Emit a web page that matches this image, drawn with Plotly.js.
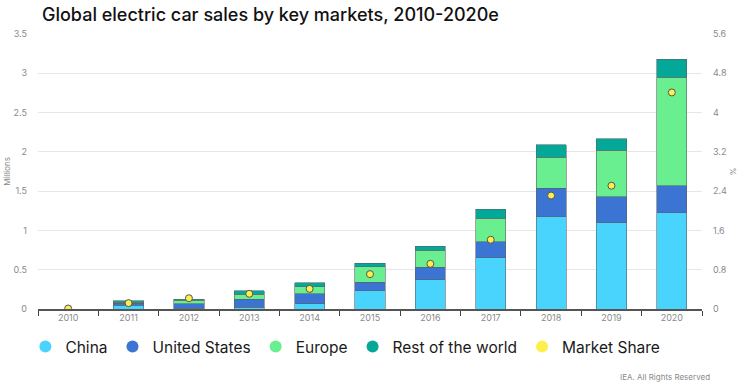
<!DOCTYPE html>
<html>
<head>
<meta charset="utf-8">
<script src="https://cdn.plot.ly/plotly-3.0.1.min.js"></script>
<style>
html,body{margin:0;padding:0;background:#fff;}
#chart{width:740px;height:387px;}
</style>
</head>
<body>
<div id="chart"></div>
<script>
const years = ['2010','2011','2012','2013','2014','2015','2016','2017','2018','2019','2020'];
const china = [0, 0.045, 0.010, 0.020, 0.067, 0.230, 0.370, 0.650, 1.175, 1.100, 1.225];
const unitedStates = [0, 0.030, 0.055, 0.103, 0.128, 0.113, 0.160, 0.206, 0.360, 0.330, 0.345];
const europe = [0, 0.010, 0.045, 0.067, 0.089, 0.197, 0.217, 0.300, 0.395, 0.590, 1.380];
const restOfWorld = [0, 0.020, 0.017, 0.040, 0.051, 0.045, 0.053, 0.115, 0.160, 0.150, 0.230];
const marketShare = [0.01, 0.12, 0.22, 0.31, 0.41, 0.71, 0.92, 1.41, 2.31, 2.51, 4.41];

const colors = {china:'#48d4fc', us:'#3b74d2', europe:'#69ef8f', row:'#04a899', share:'#fdf04d'};
const outline = {color:'rgba(90,100,105,0.75)', width:0.8};

function barTrace(name, vals, color){
  return {type:'bar', name:name, x:years, y:vals, marker:{color:color, line:outline},
          showlegend:false, hoverinfo:'name+y'};
}
function legendTrace(name, color){
  return {type:'scatter', mode:'markers', name:name, x:[null], y:[null],
          marker:{color:color, size:12, symbol:'circle'}, showlegend:true, hoverinfo:'skip'};
}

const data = [
  barTrace('China', china, colors.china),
  barTrace('United States', unitedStates, colors.us),
  barTrace('Europe', europe, colors.europe),
  barTrace('Rest of the world', restOfWorld, colors.row),
  {type:'scatter', mode:'markers', name:'Market Share', x:years, y:marketShare, yaxis:'y2',
   marker:{color:colors.share, size:7, line:{color:'#555', width:1}}, showlegend:false},
  legendTrace('China', colors.china),
  legendTrace('United States', colors.us),
  legendTrace('Europe', colors.europe),
  legendTrace('Rest of the world', colors.row),
  legendTrace('Market Share', colors.share)
];

const tickFont = {family:'Inter, Roboto, sans-serif', size:9, color:'#8a8a8a'};

const layout = {
  width:740, height:387,
  margin:{l:38, r:38, t:34, b:78},
  paper_bgcolor:'#fff', plot_bgcolor:'#fff',
  barmode:'stack', bargap:0.5,
  title:{text:'Global electric car sales by key markets, 2010-2020e',
         font:{family:'Inter, Roboto, sans-serif', size:18, color:'#111', weight:500},
         x:42/740, xanchor:'left', xref:'container', y:1-15/387, yanchor:'middle', yref:'container'},
  xaxis:{type:'category', tickson:'boundaries', ticks:'outside', ticklen:5, tickcolor:'#444', tickwidth:1,
         showline:true, linecolor:'#555', linewidth:1.5, showgrid:false, tickfont:tickFont,
         range:[-0.5, 10.5], fixedrange:true},
  yaxis:{range:[0,3.5], tickvals:[0,0.5,1,1.5,2,2.5,3,3.5], ticktext:['0','0.5','1','1.5','2','2.5','3','3.5'],
         showgrid:true, gridcolor:'#e6e6e6', gridwidth:1, zeroline:false, tickfont:tickFont, ticks:'', ticklabelstandoff:10,
         title:{text:'Millions', font:{family:'Inter, Roboto, sans-serif', size:8, color:'#8a8a8a'}, standoff:1}},
  yaxis2:{range:[0,5.6], overlaying:'y', side:'right', tickvals:[0,0.8,1.6,2.4,3.2,4,4.8,5.6],
          ticktext:['0','0.8','1.6','2.4','3.2','4','4.8','5.6'], showgrid:false, zeroline:false,
          tickfont:tickFont, ticks:'', ticklabelstandoff:10,
          title:{text:'%', font:{family:'Inter, Roboto, sans-serif', size:8, color:'#8a8a8a'}, standoff:4}},
  legend:{orientation:'h', traceorder:'normal', x:-0.019, xanchor:'left', y:-0.138, yanchor:'middle',
          font:{family:'Inter, Roboto, sans-serif', size:15.5, color:'#1a1a1a'}, bgcolor:'rgba(0,0,0,0)',
          itemclick:false},
  annotations:[{text:'IEA. All Rights Reserved', xref:'paper', yref:'paper', x:(712-38)/664, y:(309-377)/275,
                xanchor:'right', yanchor:'middle', showarrow:false,
                font:{family:'Inter, Roboto, sans-serif', size:8, color:'#8a8a8a'}}],
  showlegend:true
};

Plotly.newPlot('chart', data, layout, {displayModeBar:false, staticPlot:true});
</script>
</body>
</html>
